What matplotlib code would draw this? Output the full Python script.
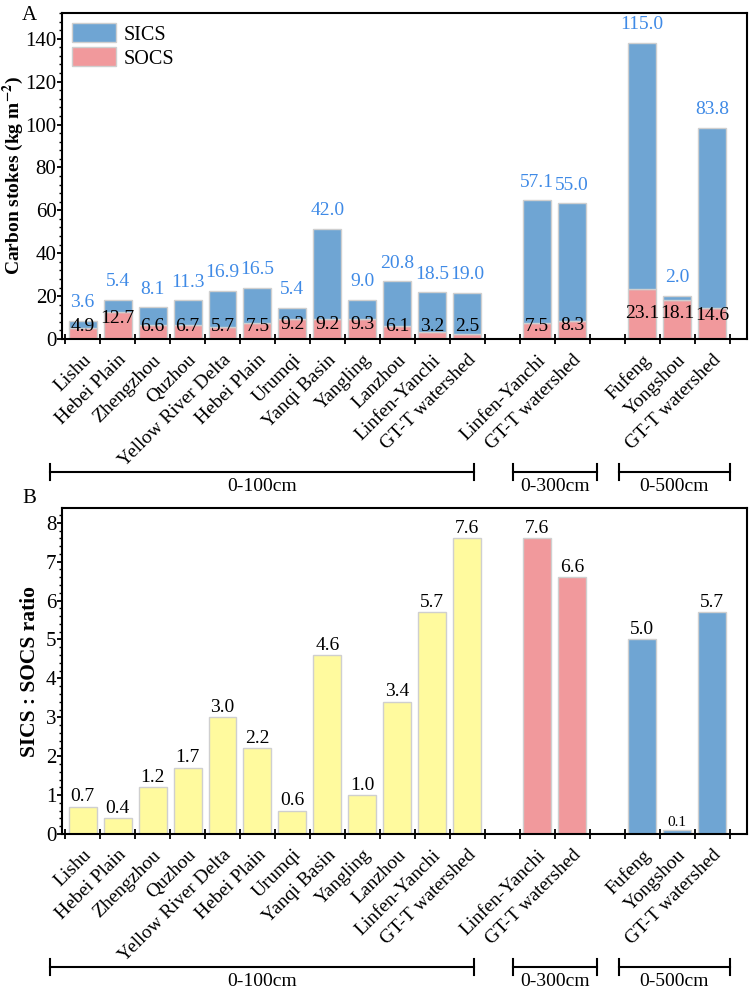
import matplotlib
matplotlib.use("Agg")
import matplotlib.pyplot as plt
import matplotlib.transforms as mtransforms
from matplotlib.ticker import AutoMinorLocator, FixedLocator
from matplotlib.patches import Patch
import numpy as np

plt.rcParams['font.family'] = ['Liberation Serif', 'DejaVu Serif']
plt.rcParams['mathtext.fontset'] = 'stix'

# data
sites = ["Lishu", "Hebei Plain", "Zhengzhou", "Quzhou", "Yellow River Delta",
         "Hebei Plain", "Urumqi", "Yanqi Basin", "Yangling", "Lanzhou",
         "Linfen-Yanchi", "GT-T watershed",
         "Linfen-Yanchi", "GT-T watershed",
         "Fufeng", "Yongshou", "GT-T watershed"]
depth_groups = ["0-100cm", "0-300cm", "0-500cm"]
group_sizes = [12, 2, 3]
socs = [4.9, 12.7, 6.6, 6.7, 5.7, 7.5, 9.2, 9.2, 9.3, 6.1, 3.2, 2.5,
        7.5, 8.3,
        23.1, 18.1, 14.6]
sics = [3.6, 5.4, 8.1, 11.3, 16.9, 16.5, 5.4, 42.0, 9.0, 20.8, 18.5, 19.0,
        57.1, 55.0,
        115.0, 2.0, 83.8]
ratio = [0.7, 0.4, 1.2, 1.7, 3.0, 2.2, 0.6, 4.6, 1.0, 3.4, 5.7, 7.6,
         7.6, 6.6,
         5.0, 0.1, 5.7]

c_sics = "#6fa5d3"
c_socs = "#f1999c"
c_yel = "#fffa9e"
c_edge = "#cfcfcf"
c_lab = "#3f8ae6"

# x positions with one empty slot between depth groups
pos = []
start = 0
for n in group_sizes:
    pos += list(range(start, start + n))
    start += n + 1
pos = np.array(pos)
group_colors = [c_yel, c_socs, c_sics]
bar_cols = []
for g, n in enumerate(group_sizes):
    bar_cols += [group_colors[g]] * n

fig = plt.figure(figsize=(7.5, 9.88), dpi=100)
W, H = 750.0, 988.0
ax1 = fig.add_axes([62 / W, 1 - 339 / H, 685 / W, 326 / H])
ax2 = fig.add_axes([62 / W, 1 - 834 / H, 685 / W, 326 / H])


def style_axis(ax, label_x):
    ax.set_xlim(-0.59, 19.0)
    ax.set_xticks(pos)
    ax.set_xticklabels(sites, rotation=45, ha='right', rotation_mode='anchor', fontsize=14)
    ax.tick_params(axis='x', which='major', length=0, pad=9)
    ax.xaxis.set_minor_locator(FixedLocator(np.arange(-0.5, 19, 1.0)))
    ax.tick_params(axis='x', which='minor', direction='inout', length=7, width=1.3)
    ax.yaxis.set_minor_locator(AutoMinorLocator(5))
    ax.tick_params(axis='y', which='major', direction='out', length=3.5, width=1.3, labelsize=15, pad=0.5)
    ax.tick_params(axis='y', which='minor', direction='out', length=2, width=1.0)
    for s in ax.spines.values():
        s.set_linewidth(1.5)
    ax.yaxis.set_label_coords(label_x, 0.5)
    # depth brackets below the tick labels
    trans = mtransforms.blended_transform_factory(ax.transData, ax.transAxes)
    spans = [(-0.93, 11.2), (12.3, 14.7), (15.35, 18.5)]
    for (lo, hi), name in zip(spans, depth_groups):
        ax.plot([lo, hi], [-0.408, -0.408], color='k', lw=1.5, transform=trans, clip_on=False)
        for xx in (lo, hi):
            ax.plot([xx, xx], [-0.383, -0.433], color='k', lw=1.5, transform=trans, clip_on=False)
        ax.text((lo + hi) / 2, -0.425, name, ha='center', va='top', fontsize=14,
                transform=trans)


# panel A
ax1.bar(pos, socs, width=0.8, color=c_socs, edgecolor=c_edge, linewidth=1.0, label="SOCS")
ax1.bar(pos, sics, width=0.8, bottom=socs, color=c_sics, edgecolor=c_edge, linewidth=1.0, label="SICS")
ax1.set_ylim(0, 152)
ax1.set_yticks(range(0, 141, 20))
style_axis(ax1, -0.053)
for x, a, b in zip(pos, socs, sics):
    ax1.annotate(f"{b:.1f}", (x, a + b), xytext=(0, 7), textcoords='offset points',
                 ha='center', va='bottom', color=c_lab, fontsize=14)
    ty = min(max(a * 0.75, 5.8), 12.0)
    ax1.text(x, ty, f"{a:.1f}", ha='center', va='center', color='k', fontsize=14)
ax1.set_ylabel(r"Carbon stokes (kg m$^{\mathbf{-2}}$)", fontsize=14, fontweight='bold')
handles = [Patch(facecolor=c_sics, edgecolor=c_edge, label="SICS"),
           Patch(facecolor=c_socs, edgecolor=c_edge, label="SOCS")]
ax1.legend(handles=handles, loc='upper left', frameon=False, fontsize=14.5,
           handlelength=2.2, handleheight=1.1, borderaxespad=0.1, handletextpad=0.35,
           labelspacing=0.12)

# panel B
ax2.bar(pos, ratio, width=0.8, color=bar_cols, edgecolor=c_edge, linewidth=1.0)
ax2.set_ylim(0, 8.38)
ax2.set_yticks(range(0, 9))
style_axis(ax2, -0.032)
for x, r in zip(pos, ratio):
    ax2.annotate(f"{r:.1f}", (x, r), xytext=(0, 1), textcoords='offset points',
                 ha='center', va='bottom', fontsize=14 if r >= 0.3 else 11)
ax2.set_ylabel("SICS : SOCS ratio", fontsize=15.5, fontweight='bold')

fig.text(22 / W, 1 - 15 / H, "A", fontsize=15, ha='left', va='center')
fig.text(22 / W, 1 - 498 / H, "B", fontsize=15, ha='left', va='center')

fig.savefig("out.png", dpi=100)
